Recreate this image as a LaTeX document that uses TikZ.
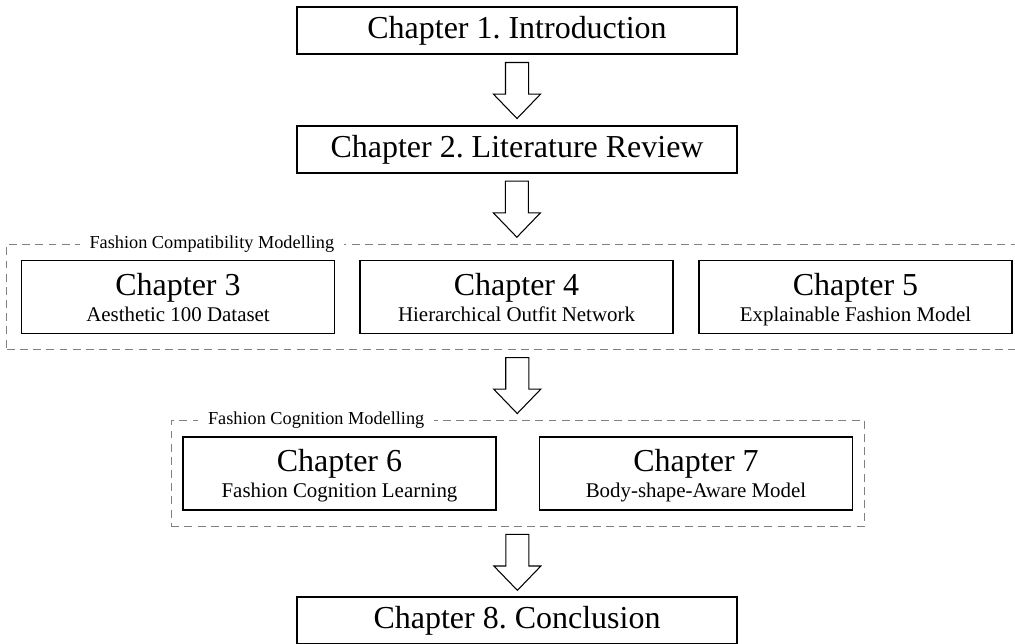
\documentclass[tikz,border=0pt]{standalone}
\usepackage{fontspec}
\setmainfont{Liberation Serif}
\usetikzlibrary{shapes.arrows,positioning,calc,fit}

\newcommand{\chapttl}[2]{{\fontsize{18.2}{22}\selectfont Chapter #1}\\#2}

\begin{document}
\frenchspacing
\begin{tikzpicture}[
  chap/.style={draw, line width=0.8pt, minimum width=8.8cm, minimum height=0.94cm,
    inner sep=0pt, font=\fontsize{18.2}{22}\selectfont},
  sub/.style={draw, line width=0.8pt, minimum width=6.26cm, minimum height=1.46cm,
    inner sep=0pt, align=center, text depth=0pt, font=\fontsize{11.9}{14.8}\selectfont},
  grp/.style={draw=gray, dash pattern=on 4.5pt off 3pt, line width=0.7pt, inner sep=0pt},
  grplabel/.style={fill=white, inner xsep=0.2cm, inner ysep=1pt, anchor=west,
    font=\fontsize{10.4}{12}\selectfont},
  down/.style={single arrow, draw, line width=0.6pt, rotate=-90, anchor=tail,
    inner xsep=0pt, inner ysep=0.22cm, minimum height=1.12cm,
    single arrow head extend=0.24cm, single arrow tip angle=88}
]
  \useasboundingbox (0,0) rectangle (20.3,-12.88);

  \node[chap] (ch1) at (10.34,-0.61) {Chapter 1. Introduction};
  \node[chap] (ch2) at (10.34,-2.99) {Chapter 2. Literature Review};

  % compatibility part
  \node[sub] (ch3) at (3.56,-5.94) {\chapttl{3}{Aesthetic 100 Dataset}};
  \node[sub] (ch4) at (10.33,-5.94) {\chapttl{4}{Hierarchical Outfit Network}};
  \node[sub] (ch5) at (17.11,-5.94) {\chapttl{5}{Explainable Fashion Model}};
  \node[grp, fit=(ch3)(ch5), inner xsep=0.28cm, inner ysep=0.31cm] (fcm) {};
  \node[grplabel] (fcmlabel) at ($(fcm.north west)+(1.46,0)$) {Fashion Compatibility Modelling};

  % cognition part
  \node[sub] (ch6) at (6.79,-9.47) {\chapttl{6}{Fashion Cognition Learning}};
  \node[sub] (ch7) at (13.92,-9.47) {\chapttl{7}{Body-shape-Aware Model}};
  \node[grp, fit=(ch6)(ch7), inner xsep=0.22cm, inner ysep=0.32cm] (fcg) {};
  \node[grplabel] (fcglabel) at ($(fcg.north west)+(0.54,0)$) {Fashion Cognition Modelling};

  \node[chap] (ch8) at (10.34,-12.41) {Chapter 8. Conclusion};

  \node[down] (a1) at ($(ch1.south)!0.5!(ch2.north)+(0,0.56)$) {};
  \node[down] (a2) at ($(ch2.south)!0.5!(fcm.north)+(0,0.56)$) {};
  \node[down] (a3) at ($(fcm.south)!0.5!(fcg.north)+(0,0.56)$) {};
  \node[down] (a4) at ($(fcg.south)!0.5!(ch8.north)+(0,0.56)$) {};
\end{tikzpicture}
\end{document}
